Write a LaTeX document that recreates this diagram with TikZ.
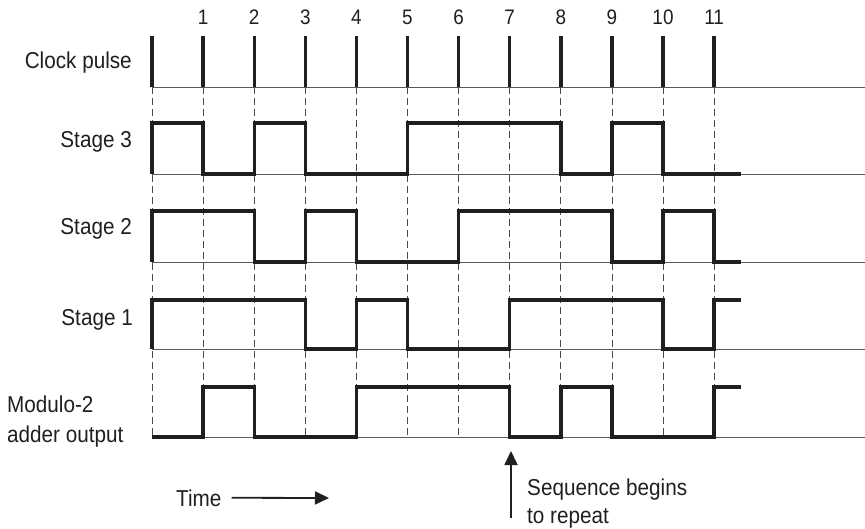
\documentclass[tikz,border=0pt]{standalone}
\usepackage{fontspec}
\setmainfont{Liberation Sans}[FakeStretch=0.9]
\usetikzlibrary{arrows.meta}

\begin{document}
\begin{tikzpicture}[
    x=1pt, y=-1pt,
    font=\fontsize{23}{25}\selectfont,
    >={Triangle[length=14pt,width=13pt]},
    lbl/.style={inner sep=0pt, anchor=base east, text=black!88},
    lblw/.style={inner sep=0pt, anchor=base west, text=black!88},
    num/.style={inner sep=0pt, anchor=base, text=black!88,
                font=\fontsize{21}{23}\selectfont},
    base/.style={draw=black!65, line width=0.9pt},
    tick/.style={draw=black!70, line width=0.8pt, dash pattern=on 7pt off 4pt},
    wave/.style={draw=black!88, line width=3.4pt, line join=miter},
    pointer/.style={->, draw=black!88, line width=1.8pt},
]
\useasboundingbox (0,0) rectangle (865,529);

%% ---- signal names (left) ----
\node[lbl]  (clk)   at (132,69)  {Clock pulse};
\node[lbl]  (st3)   at (132,148) {Stage 3};
\node[lbl]  (st2)   at (132,235) {Stage 2};
\node[lbl]  (st1)   at (133,326) {Stage 1};
\node[lblw] (mod)   at (7,412)   {Modulo-2};
\node[lblw] (adder) at (7,442)   {adder output};

%% ---- base lines ----
\foreach \y in {87,174,262,349,437}
    \draw[base] (152,\y) -- (865,\y);

%% ---- time axis: one unit per clock period ----
\begin{scope}[x=51.1pt, xshift=152pt]

%% clock numbers
\foreach \i in {1,...,11}
    \node[num] (n\i) at (\i,25) {\i};

%% dashed clock markers
\foreach \i in {0,...,11}
    \draw[tick] (\i,87) -- (\i,437);

%% clock pulses
\foreach \i in {0,...,11}
    \draw[wave] (\i,87) -- (\i,36);

%% ---- Stage 3 ----
\draw[wave] (0,174) -- (0,123) -- (1,123) -- (1,174) -- (2,174) -- (2,123)
    -- (3,123) -- (3,174) -- (5,174) -- (5,123) -- (8,123) -- (8,174)
    -- (9,174) -- (9,123) -- (10,123) -- (10,174) -- (11.53,174);

%% ---- Stage 2 ----
\draw[wave] (0,262) -- (0,211) -- (2,211) -- (2,262) -- (3,262) -- (3,211)
    -- (4,211) -- (4,262) -- (6,262) -- (6,211) -- (9,211) -- (9,262)
    -- (10,262) -- (10,211) -- (11,211) -- (11,262) -- (11.53,262);

%% ---- Stage 1 ----
\draw[wave] (0,349) -- (0,300) -- (3,300) -- (3,349) -- (4,349) -- (4,300)
    -- (5,300) -- (5,349) -- (7,349) -- (7,300) -- (10,300) -- (10,349)
    -- (11,349) -- (11,300) -- (11.53,300);

%% ---- Modulo-2 adder output ----
\draw[wave] (0,437) -- (1,437) -- (1,387) -- (2,387) -- (2,437) -- (4,437)
    -- (4,387) -- (7,387) -- (7,437) -- (8,437) -- (8,387) -- (9,387)
    -- (9,437) -- (11,437) -- (11,387) -- (11.53,387);

\end{scope}

%% ---- time arrow ----
\node[lblw] (time) at (176,506) {Time};
\coordinate (timeend) at (329,498);
\draw[pointer] ([xshift=10pt]time.east) -- (timeend);

%% ---- repeat marker ----
\coordinate (seqfoot) at (511,518);
\coordinate (seqtip)  at (511,451);
\draw[pointer] (seqfoot) -- (seqtip);
\node[lblw] (seq1) at (527,495) {Sequence begins};
\node[lblw] (seq2) at (527,523) {to repeat};

\end{tikzpicture}
\end{document}
